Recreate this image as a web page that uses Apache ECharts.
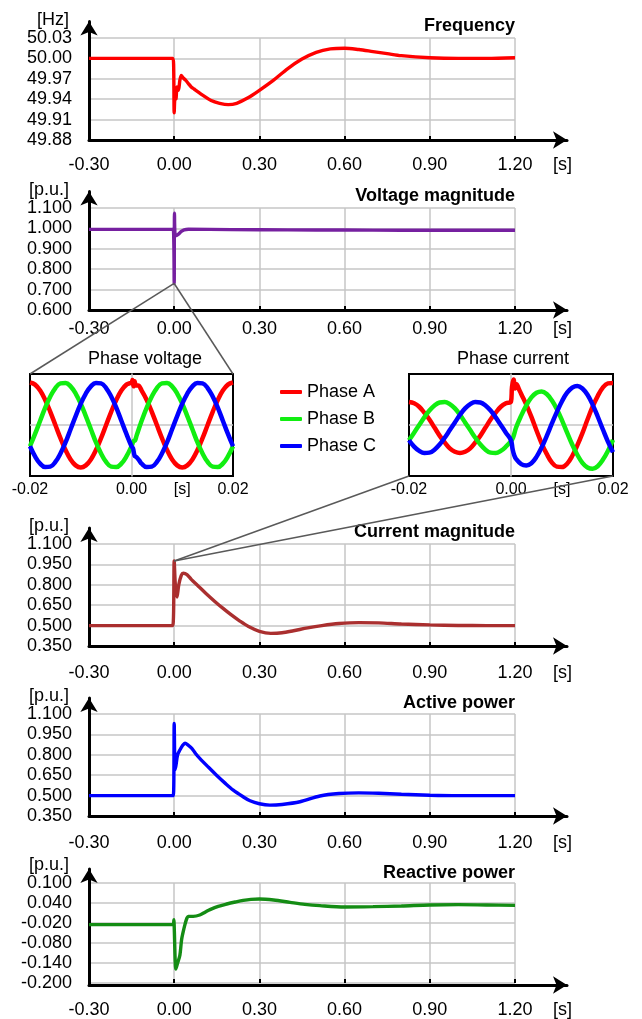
<!DOCTYPE html>
<html>
<head>
<meta charset="utf-8">
<script src="https://cdn.jsdelivr.net/npm/echarts@6/dist/echarts.min.js"></script>
<style>
  html, body { margin: 0; padding: 0; background: #fff; }
  #chart { width: 642px; height: 1019px; }
</style>
</head>
<body>
<div id="chart"></div>
<script>
  // [time s, value]
  const frequency = [
    [-0.3, 50.0], [-0.005, 50.0], [-0.002, 49.99], [0.0, 49.92], [0.003, 49.945], [0.006, 49.94],
    [0.01, 49.958], [0.015, 49.953], [0.02, 49.968], [0.025, 49.975], [0.03, 49.972], [0.04, 49.968],
    [0.05, 49.963], [0.06, 49.958], [0.07, 49.955], [0.08, 49.952], [0.1, 49.946], [0.13, 49.938],
    [0.16, 49.934], [0.19, 49.932], [0.22, 49.934], [0.26, 49.942], [0.3, 49.953], [0.35, 49.968],
    [0.4, 49.985], [0.45, 49.999], [0.5, 50.009], [0.55, 50.014], [0.6, 50.015], [0.65, 50.013],
    [0.7, 50.01], [0.75, 50.007], [0.8, 50.004], [0.9, 50.001], [1.0, 50.0], [1.1, 50.0], [1.2, 50.001]
  ];
  const voltageMagnitude = [
    [-0.3, 0.995], [-0.006, 0.995], [-0.002, 0.975], [0.0, 0.73], [0.001, 1.075], [0.003, 0.968],
    [0.008, 0.965], [0.015, 0.972], [0.025, 0.985], [0.035, 0.993], [0.05, 0.996], [0.2, 0.994],
    [0.4, 0.993], [0.6, 0.992], [0.8, 0.991], [1.0, 0.991], [1.2, 0.991]
  ];
  const currentMagnitude = [
    [-0.3, 0.5], [-0.005, 0.5], [0.0, 0.975], [0.004, 0.8], [0.01, 0.71], [0.016, 0.8], [0.025, 0.87],
    [0.032, 0.885], [0.045, 0.875], [0.06, 0.84], [0.085, 0.79], [0.11, 0.74], [0.144, 0.676],
    [0.17, 0.63], [0.2, 0.58], [0.23, 0.535], [0.26, 0.495], [0.3, 0.458], [0.34, 0.443], [0.38, 0.447],
    [0.42, 0.462], [0.47, 0.483], [0.52, 0.5], [0.58, 0.515], [0.65, 0.522], [0.72, 0.52], [0.8, 0.512],
    [0.9, 0.505], [1.0, 0.501], [1.1, 0.5], [1.2, 0.5]
  ];
  const activePower = [
    [-0.3, 0.5], [-0.003, 0.5], [0.0, 1.03], [0.003, 0.69], [0.006, 0.72], [0.012, 0.8], [0.02, 0.835],
    [0.03, 0.87], [0.038, 0.885], [0.05, 0.87], [0.062, 0.848], [0.075, 0.81], [0.09, 0.774],
    [0.12, 0.71], [0.149, 0.65], [0.18, 0.59], [0.208, 0.54], [0.24, 0.495], [0.267, 0.462],
    [0.3, 0.44], [0.337, 0.43], [0.38, 0.435], [0.443, 0.455], [0.513, 0.497], [0.58, 0.515],
    [0.65, 0.52], [0.72, 0.517], [0.8, 0.51], [0.9, 0.503], [1.0, 0.5], [1.2, 0.5]
  ];
  const reactivePower = [
    [-0.3, -0.025], [-0.004, -0.025], [-0.001, -0.01], [0.0, -0.03], [0.006, -0.158], [0.012, -0.14],
    [0.02, -0.117], [0.026, -0.07], [0.032, -0.045], [0.038, -0.024], [0.045, -0.005], [0.05, 0.0],
    [0.067, 0.0], [0.09, 0.004], [0.11, 0.013], [0.126, 0.02], [0.155, 0.03], [0.185, 0.037],
    [0.215, 0.043], [0.243, 0.048], [0.27, 0.051], [0.3, 0.052], [0.35, 0.049], [0.408, 0.042],
    [0.46, 0.036], [0.513, 0.032], [0.6, 0.028], [0.7, 0.029], [0.8, 0.031], [0.9, 0.034],
    [1.0, 0.035], [1.1, 0.034], [1.2, 0.033]
  ];

  // zoomed phase waveforms around the fault, -0.02 .. 0.02 s
  const phaseVoltageA = [
    [-0.020, 1.00], [-0.019, 0.95], [-0.018, 0.81], [-0.017, 0.59], [-0.016, 0.31], [-0.015, 0.00],
    [-0.014, -0.31], [-0.013, -0.59], [-0.012, -0.81], [-0.011, -0.95], [-0.010, -1.00], [-0.009, -0.95],
    [-0.008, -0.81], [-0.007, -0.59], [-0.006, -0.31], [-0.005, 0.00], [-0.004, 0.31], [-0.003, 0.59],
    [-0.002, 0.81], [-0.001, 0.95], [0.000, 1.00], [0.0002, 1.06], [0.0004, 0.91], [0.0006, 1.03],
    [0.0009, 0.93], [0.0013, 0.93], [0.002, 0.81], [0.003, 0.59], [0.004, 0.31], [0.005, 0.00],
    [0.006, -0.31], [0.007, -0.59], [0.008, -0.81], [0.009, -0.95], [0.010, -1.00], [0.011, -0.95],
    [0.012, -0.81], [0.013, -0.59], [0.014, -0.31], [0.015, 0.00], [0.016, 0.31], [0.017, 0.59],
    [0.018, 0.81], [0.019, 0.95], [0.020, 1.00]
  ];
  const phaseVoltageB = [
    [-0.020, -0.50], [-0.019, -0.21], [-0.018, 0.10], [-0.017, 0.41], [-0.016, 0.67], [-0.015, 0.87],
    [-0.014, 0.98], [-0.013, 0.99], [-0.012, 0.91], [-0.011, 0.74], [-0.010, 0.50], [-0.009, 0.21],
    [-0.008, -0.10], [-0.007, -0.41], [-0.006, -0.67], [-0.005, -0.87], [-0.004, -0.98], [-0.003, -0.99],
    [-0.002, -0.91], [-0.001, -0.74], [0.000, -0.50], [0.0004, -0.38], [0.0007, -0.36], [0.001, -0.25],
    [0.002, 0.10], [0.003, 0.41], [0.004, 0.67], [0.005, 0.87], [0.006, 0.98], [0.007, 0.99],
    [0.008, 0.91], [0.009, 0.74], [0.010, 0.50], [0.011, 0.21], [0.012, -0.10], [0.013, -0.41],
    [0.014, -0.67], [0.015, -0.87], [0.016, -0.98], [0.017, -0.99], [0.018, -0.91], [0.019, -0.74],
    [0.020, -0.50]
  ];
  const phaseVoltageC = [
    [-0.020, -0.50], [-0.019, -0.74], [-0.018, -0.91], [-0.017, -0.99], [-0.016, -0.98], [-0.015, -0.87],
    [-0.014, -0.67], [-0.013, -0.41], [-0.012, -0.10], [-0.011, 0.21], [-0.010, 0.50], [-0.009, 0.74],
    [-0.008, 0.91], [-0.007, 0.99], [-0.006, 0.98], [-0.005, 0.87], [-0.004, 0.67], [-0.003, 0.41],
    [-0.002, 0.10], [-0.001, -0.21], [0.000, -0.50], [0.0003, -0.55], [0.0006, -0.72], [0.001, -0.76],
    [0.0015, -0.83], [0.002, -0.91], [0.003, -0.99], [0.004, -0.98], [0.005, -0.87], [0.006, -0.67],
    [0.007, -0.41], [0.008, -0.10], [0.009, 0.21], [0.010, 0.50], [0.011, 0.74], [0.012, 0.91],
    [0.013, 0.99], [0.014, 0.98], [0.015, 0.87], [0.016, 0.67], [0.017, 0.41], [0.018, 0.10],
    [0.019, -0.21], [0.020, -0.50]
  ];
  const phaseCurrentA = [
    [-0.020, 0.54], [-0.019, 0.51], [-0.018, 0.43], [-0.017, 0.29], [-0.016, 0.13], [-0.015, -0.06],
    [-0.014, -0.25], [-0.013, -0.41], [-0.012, -0.55], [-0.011, -0.63], [-0.010, -0.66], [-0.009, -0.63],
    [-0.008, -0.55], [-0.007, -0.41], [-0.006, -0.25], [-0.005, -0.06], [-0.004, 0.13], [-0.003, 0.29],
    [-0.002, 0.43], [-0.001, 0.51], [0.000, 0.55], [0.0002, 0.90], [0.0005, 1.07], [0.0008, 0.86],
    [0.0011, 0.96], [0.0015, 0.86], [0.002, 0.73], [0.003, 0.48], [0.004, 0.19], [0.005, -0.13],
    [0.006, -0.43], [0.007, -0.68], [0.008, -0.88], [0.009, -0.98], [0.010, -0.99], [0.011, -0.91],
    [0.012, -0.73], [0.013, -0.48], [0.014, -0.19], [0.015, 0.13], [0.016, 0.43], [0.017, 0.68],
    [0.018, 0.88], [0.019, 0.98], [0.020, 0.99]
  ];
  const phaseCurrentB = [
    [-0.020, -0.36], [-0.019, -0.18], [-0.018, 0.00], [-0.017, 0.18], [-0.016, 0.34], [-0.015, 0.46],
    [-0.014, 0.53], [-0.013, 0.54], [-0.012, 0.49], [-0.011, 0.39], [-0.010, 0.24], [-0.009, 0.06],
    [-0.008, -0.12], [-0.007, -0.30], [-0.006, -0.46], [-0.005, -0.58], [-0.004, -0.65], [-0.003, -0.66],
    [-0.002, -0.61], [-0.001, -0.51], [0.000, -0.38], [0.0004, -0.30], [0.001, -0.06], [0.002, 0.22],
    [0.003, 0.46], [0.004, 0.65], [0.005, 0.76], [0.006, 0.79], [0.007, 0.73], [0.008, 0.58],
    [0.009, 0.37], [0.010, 0.11], [0.011, -0.18], [0.012, -0.46], [0.013, -0.70], [0.014, -0.89],
    [0.015, -1.00], [0.016, -1.03], [0.017, -0.97], [0.018, -0.82], [0.019, -0.61], [0.020, -0.35]
  ];
  const phaseCurrentC = [
    [-0.020, -0.36], [-0.019, -0.51], [-0.018, -0.61], [-0.017, -0.66], [-0.016, -0.65], [-0.015, -0.58],
    [-0.014, -0.46], [-0.013, -0.30], [-0.012, -0.12], [-0.011, 0.06], [-0.010, 0.24], [-0.009, 0.39],
    [-0.008, 0.49], [-0.007, 0.54], [-0.006, 0.53], [-0.005, 0.46], [-0.004, 0.34], [-0.003, 0.18],
    [-0.002, 0.00], [-0.001, -0.18], [0.000, -0.36], [0.0003, -0.56], [0.0006, -0.70], [0.001, -0.80],
    [0.002, -0.92], [0.003, -0.95], [0.004, -0.90], [0.005, -0.75], [0.006, -0.53], [0.007, -0.26],
    [0.008, 0.03], [0.009, 0.31], [0.010, 0.56], [0.011, 0.76], [0.012, 0.88], [0.013, 0.92],
    [0.014, 0.86], [0.015, 0.71], [0.016, 0.48], [0.017, 0.20], [0.018, -0.10], [0.019, -0.39],
    [0.020, -0.64]
  ];

  const phaseNames = ['Phase A', 'Phase B', 'Phase C'];
  const insetTickLabels = { '-2': '-0.02', '0': '0.00', '1': '[s]', '2': '0.02' };

  const FONT = "'Liberation Sans', Arial, sans-serif";
  const GRID = '#c6c6c6';
  const PHASE_COLORS = ['#ff0000', '#11ee11', '#0000ff'];

  const panels = [
    { name: 'Frequency', unit: '[Hz]', data: frequency, color: '#ff0000', min: 49.88, max: 50.03, step: 0.03,
      digits: 2, top: 38, base: 140, arrow: 21.5, margin: 16, unitGap: 17, titleTop: 17 },
    { name: 'Voltage magnitude', unit: '[p.u.]', data: voltageMagnitude, color: '#7620a0', min: 0.6, max: 1.1, step: 0.1,
      digits: 3, top: 208, base: 310, arrow: 191.5, margin: 10, unitGap: 17, titleTop: 187 },
    { name: 'Current magnitude', unit: '[p.u.]', data: currentMagnitude, color: '#aa2f2f', min: 0.35, max: 1.1, step: 0.15,
      digits: 3, top: 544, base: 646, arrow: 528, margin: 18.5, unitGap: 17, titleTop: 523 },
    { name: 'Active power', unit: '[p.u.]', data: activePower, color: '#0000ff', min: 0.35, max: 1.1, step: 0.15,
      digits: 3, top: 714, base: 816, arrow: 698, margin: 18.5, unitGap: 17, titleTop: 694 },
    { name: 'Reactive power', unit: '[p.u.]', data: reactivePower, color: '#148c14', min: -0.2, max: 0.1, step: 0.06,
      digits: 3, top: 883, base: 985, arrow: 869, margin: 18, unitGap: 14, titleTop: 864 }
  ];

  const insets = [
    { title: 'Phase voltage', left: 30, width: 203, titleX: 145, waves: [phaseVoltageA, phaseVoltageB, phaseVoltageC] },
    { title: 'Phase current', left: 409, width: 204, titleX: 513, waves: [phaseCurrentA, phaseCurrentB, phaseCurrentC] }
  ];

  const txt = (size, extra) => Object.assign({ fontSize: size, color: '#000', fontFamily: FONT }, extra || {});

  const grid = [];
  const xAxis = [];
  const yAxis = [];
  const series = [];

  // plot areas
  panels.forEach((p, i) => {
    grid.push({ left: 89, width: 426, top: p.top, height: p.base - p.top });
    xAxis.push({
      type: 'value', gridIndex: i, min: -0.3, max: 1.2, interval: 0.3,
      axisLine: { show: false, onZero: false },
      axisTick: { show: true, inside: true, length: 4, lineStyle: { color: '#000', width: 2 } },
      axisLabel: txt(18, { margin: p.margin, formatter: (v) => v.toFixed(2) }),
      splitLine: { show: true, lineStyle: { color: GRID, width: 1.5 } },
      name: '[s]', nameLocation: 'end', nameGap: 38,
      nameTextStyle: txt(18, { align: 'left', verticalAlign: 'top', padding: [p.margin, 0, 0, 0] })
    });
    yAxis.push({
      type: 'value', gridIndex: i, min: p.min, max: p.max, interval: p.step,
      axisLine: { show: false, onZero: false },
      axisTick: { show: false },
      axisLabel: txt(18, { margin: 17, formatter: (v) => v.toFixed(p.digits) }),
      splitLine: { show: true, lineStyle: { color: GRID, width: 1.5 } },
      name: p.unit, nameLocation: 'end', nameGap: p.unitGap,
      nameTextStyle: txt(18, { align: 'right', verticalAlign: 'middle', padding: [0, 20, 0, 0] })
    });
    series.push({
      name: p.name, type: 'line', xAxisIndex: i, yAxisIndex: i, data: p.data,
      showSymbol: false, smooth: 0.3, lineStyle: { color: p.color, width: 3.4 }, itemStyle: { color: p.color }
    });
  });

  // black arrow axes, longer than the plot areas
  panels.forEach((p, i) => {
    const gi = panels.length + i;
    const arrowLine = {
      onZero: false, symbol: ['none', 'arrow'], symbolSize: [13, 14],
      lineStyle: { color: '#000', width: 3 }
    };
    grid.push({ left: 89, width: 478, top: p.arrow, height: p.base - p.arrow });
    xAxis.push({ type: 'value', gridIndex: gi, min: 0, max: 1, axisLine: arrowLine,
      axisTick: { show: false }, axisLabel: { show: false }, splitLine: { show: false } });
    yAxis.push({ type: 'value', gridIndex: gi, min: 0, max: 1, axisLine: arrowLine,
      axisTick: { show: false }, axisLabel: { show: false }, splitLine: { show: false } });
  });

  // zoomed waveform insets
  insets.forEach((s, j) => {
    const gi = panels.length * 2 + j;
    grid.push({ left: s.left, width: s.width, top: 374, height: 102, show: true, borderColor: '#000', borderWidth: 2 });
    xAxis.push({
      type: 'value', gridIndex: gi, min: -0.02, max: 0.02, interval: 0.01,
      axisLine: { show: false, onZero: false }, axisTick: { show: false }, splitLine: { show: false },
      axisLabel: txt(16, { margin: 6, formatter: (v) => insetTickLabels[Math.round(v * 100)] || '' })
    });
    yAxis.push({
      type: 'value', gridIndex: gi, min: -1.2, max: 1.2, interval: 1.2,
      axisLine: { show: true, onZero: true, lineStyle: { color: GRID, width: 1.5 } },
      axisTick: { show: false }, axisLabel: { show: false },
      splitLine: { show: true, showMinLine: false, showMaxLine: false, lineStyle: { color: GRID, width: 1.5 } }
    });
    s.waves.forEach((w, k) => {
      series.push({
        name: phaseNames[k], type: 'line', xAxisIndex: gi, yAxisIndex: gi, data: w,
        showSymbol: false, smooth: 0.4,
        lineStyle: { color: PHASE_COLORS[k], width: 4.5 }, itemStyle: { color: PHASE_COLORS[k] }
      });
    });
  });

  const title = panels.map((p) => ({
    text: p.name, left: 515, top: p.titleTop, textAlign: 'right', padding: 0,
    textStyle: txt(18, { fontWeight: 'bold' })
  })).concat(insets.map((s) => ({
    text: s.title, left: s.titleX, top: 350, textAlign: 'center', padding: 0,
    textStyle: txt(18, { fontWeight: 'normal' })
  })));

  const chart = echarts.init(document.getElementById('chart'));
  chart.setOption({
    animation: false,
    backgroundColor: '#fff',
    textStyle: { fontFamily: FONT },
    title,
    legend: {
      data: phaseNames, orient: 'vertical', left: 280, top: 383, padding: 0,
      itemWidth: 22, itemHeight: 4, itemGap: 9, icon: 'roundRect',
      textStyle: txt(18, { lineHeight: 18 })
    },
    grid, xAxis, yAxis, series
  });

  // connector lines from the fault point to the insets
  const vDip = voltageMagnitude.reduce((a, b) => (b[1] < a[1] ? b : a));
  const cPeak = currentMagnitude.reduce((a, b) => (b[1] > a[1] ? b : a));
  const vInset = panels.length * 2;
  const cInset = vInset + 1;
  const links = [
    [chart.convertToPixel({ gridIndex: 1 }, vDip), chart.convertToPixel({ gridIndex: vInset }, [-0.02, 1.2])],
    [chart.convertToPixel({ gridIndex: 1 }, vDip), chart.convertToPixel({ gridIndex: vInset }, [0.02, 1.2])],
    [chart.convertToPixel({ gridIndex: 2 }, cPeak), chart.convertToPixel({ gridIndex: cInset }, [-0.02, -1.2])],
    [chart.convertToPixel({ gridIndex: 2 }, cPeak), chart.convertToPixel({ gridIndex: cInset }, [0.02, -1.2])]
  ];
  chart.setOption({
    graphic: links.map(([a, b]) => ({
      type: 'line', silent: true, z: 100,
      shape: { x1: a[0], y1: a[1], x2: b[0], y2: b[1] },
      style: { stroke: '#595959', lineWidth: 1.5 }
    }))
  });
</script>
</body>
</html>
